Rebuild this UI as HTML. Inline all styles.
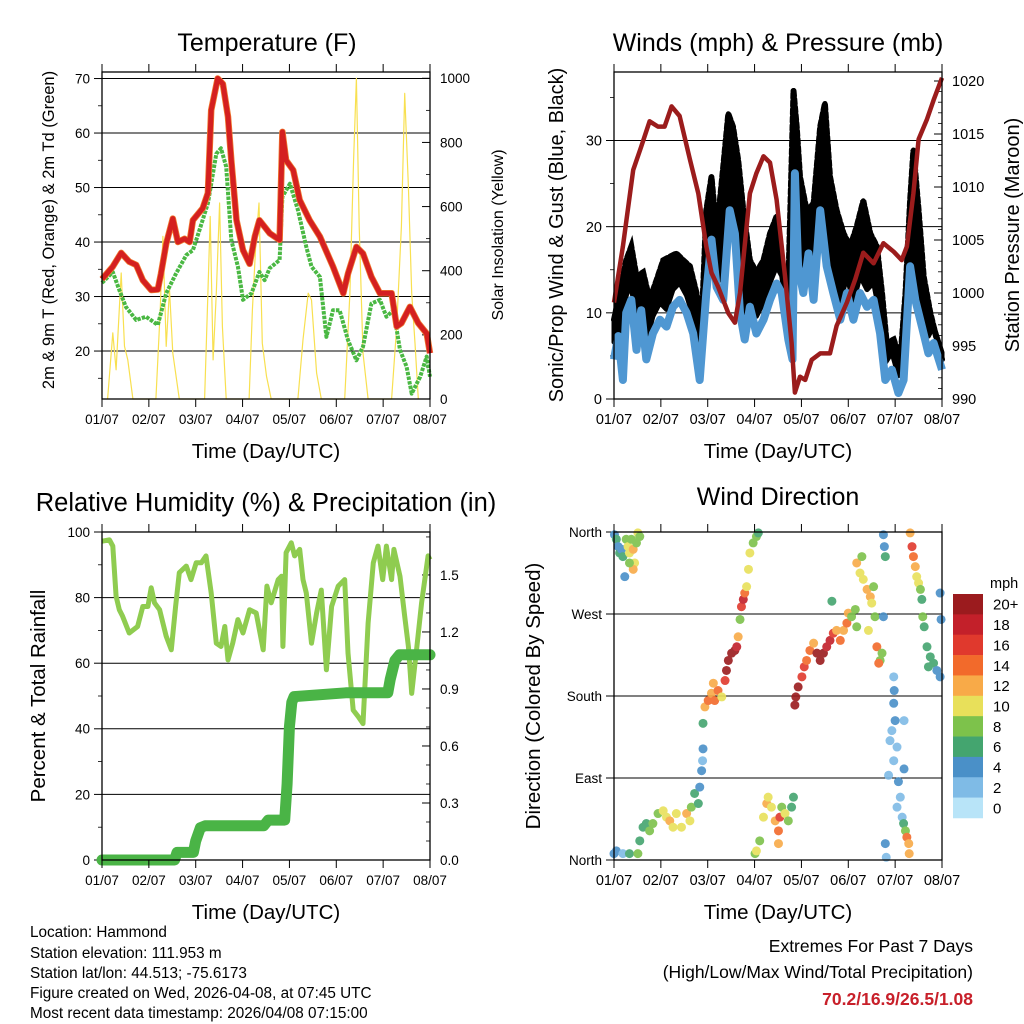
<!DOCTYPE html>
<html><head><meta charset="utf-8"><style>
html,body{margin:0;padding:0;background:#fff;}
svg{display:block;font-family:"Liberation Sans",Arial,sans-serif;}
</style></head><body>
<svg id="fig" width="1024" height="1024" viewBox="0 0 1024 1024" xmlns="http://www.w3.org/2000/svg">
<g id="layer"></g>
<g font-size="15.3" fill="#000">
<text x="30" y="937">Location: Hammond</text>
<text x="30" y="958">Station elevation: 111.953 m</text>
<text x="30" y="978">Station lat/lon: 44.513; -75.6173</text>
<text x="30" y="998">Figure created on Wed, 2026-04-08, at 07:45 UTC</text>
<text x="30" y="1018">Most recent data timestamp: 2026/04/08 07:15:00</text>
</g>
<g font-size="17.5" text-anchor="end">
<text x="973" y="952">Extremes For Past 7 Days</text>
<text x="973" y="978">(High/Low/Max Wind/Total Precipitation)</text>
<text x="973" y="1005" fill="#c8202a" font-weight="bold">70.2/16.9/26.5/1.08</text>
</g>
</svg>
<script>
// ---------- DATA ----------
const dayLabels = ["01/07","02/07","03/07","04/07","05/07","06/07","07/07","08/07"];
// Temperature (F)
const tempTime = [0,.23,.41,.58,.73,.87,1.05,1.19,1.26,1.37,1.51,1.62,1.76,1.87,1.94,2.15,2.26,2.33,2.47,2.58,2.69,2.76,2.87,3.01,3.15,3.26,3.36,3.47,3.58,3.79,3.85,3.93,4.08,4.22,4.43,4.65,4.93,5.15,5.25,5.43,5.57,5.75,5.93,6.04,6.18,6.29,6.39,6.57,6.75,6.93,7.0];
const tempVal = [33.2,35.5,38,36.4,35.8,33,31.2,31.3,34.2,39.7,44.3,40,40.6,40,44,46.2,49,64.2,70,69,63,55,44,38.5,36,41,44,42.8,41.6,40.4,60.2,55,53.2,47.7,44,41,35.5,30.6,34.2,39.1,37.9,33.6,30.6,30.6,30.6,24.5,25.1,28.1,25.1,23.2,19.6];
const dewTime = [0,.23,.37,.51,.73,.94,1.19,1.37,1.58,1.80,1.94,2.08,2.26,2.44,2.54,2.65,2.76,2.90,3.01,3.19,3.36,3.47,3.58,3.79,3.85,4.01,4.18,4.36,4.47,4.65,4.79,4.93,5.07,5.25,5.43,5.57,5.75,5.93,6.07,6.22,6.36,6.50,6.61,6.79,6.93,7.0];
const dewVal = [32.5,34.5,31.2,28.1,25.7,26.3,24.8,30.6,34.2,37.6,38.5,42.2,47.1,56.2,57.2,53.8,40.4,35.5,29.4,30.6,34.5,33,35.2,36.7,48.3,50.7,45.9,39.1,35.5,33.6,22.6,27.5,27.5,22,18.3,20.8,28.7,29.4,26.3,27.5,20.2,17.1,12.2,15.3,19,15.3];
const solarTime = [0.12,0.23,0.30,0.41,0.48,0.55,0.66, 1.15,1.24,1.30,1.37,1.44,1.51,1.65, 2.19,2.26,2.31,2.37,2.44,2.51,2.57,2.65, 3.14,3.21,3.28,3.35,3.42,3.51,3.61, 4.18,4.29,4.40,4.47,4.58,4.68, 5.18,5.29,5.37,5.43,5.49,5.57,5.68, 6.18,6.29,6.39,6.46,6.54,6.61,6.68,6.75];
const solarVal  = [0,206,91,393,164,122,0, 0,268,507,164,341,143,0, 0,330,569,122,330,611,226,0, 0,278,476,611,174,71,0, 0,185,330,309,81,0, 0,330,746,1000,538,143,0, 0,226,538,953,662,330,174,0];
// Winds (mph) & pressure (mb)
const windTime = [0,.09,.19,.26,.37,.48,.58,.69,.83,.98,1.12,1.26,1.40,1.55,1.69,1.83,1.97,2.08,2.19,2.33,2.47,2.58,2.69,2.79,2.90,3.04,3.19,3.33,3.47,3.58,3.72,3.81,3.86,3.93,4.04,4.15,4.26,4.40,4.54,4.68,4.83,4.97,5.11,5.25,5.40,5.54,5.68,5.79,5.93,6.07,6.18,6.32,6.43,6.57,6.71,6.82,7.0];
const windVal  = [4.6,7.3,2.2,10,11.5,5.7,10.3,4.6,7.6,9.2,8.4,10.7,11.5,10,7.6,2.2,12.3,18.5,13,11.5,21.9,19.2,10,6.9,10.7,7.6,9.2,11.5,13.4,12.3,6.9,4.6,26.2,15.4,12.3,16.9,11.5,21.9,15.4,12.3,9.2,12.3,9.2,12.3,10.7,11.5,7.6,2.2,3.4,0.7,2.2,15.4,11.5,8.4,5.3,6.5,3.4];
const gustTime = [0,.12,.26,.37,.48,.62,.76,.91,1.05,1.19,1.33,1.48,1.62,1.76,1.87,1.97,2.08,2.19,2.33,2.44,2.54,2.65,2.76,2.90,3.04,3.19,3.33,3.47,3.58,3.72,3.83,3.90,3.97,4.11,4.26,4.40,4.50,4.61,4.75,4.90,5.04,5.18,5.32,5.47,5.61,5.72,5.82,5.97,6.11,6.22,6.32,6.39,6.50,6.61,6.75,6.89,7.0];
const gustVal  = [9.2,12.3,16.1,17.7,14.2,14.7,11.5,13.8,16.1,16.5,16.9,16.1,15.4,12.3,8.4,21.9,25.8,19.2,26.9,33.1,31.6,27.7,21.9,16.1,14.7,16.1,19.2,21.2,16.1,13.1,35.8,31.6,25.8,21.9,22.7,31.6,34.3,25.8,21.9,19.2,17.7,20,23,19.2,17.7,12.3,6.5,6.9,4.6,12.3,23,28.9,21.9,14.2,10,6.9,4.6];
const presTime = [0,.19,.41,.58,.76,.94,1.08,1.23,1.40,1.62,1.80,1.97,2.08,2.22,2.44,2.58,2.69,2.90,3.04,3.19,3.33,3.47,3.65,3.79,3.86,3.97,4.08,4.22,4.40,4.61,4.75,4.97,5.15,5.32,5.54,5.75,5.97,6.14,6.25,6.39,6.50,6.68,6.82,7.0];
const presVal  = [999.1,1004.4,1011.6,1013.8,1016.2,1015.7,1015.7,1017.6,1016.7,1012.6,1009.4,1004.4,1001.9,1000.6,998.1,997.2,1000,1009.4,1011.3,1012.9,1012.3,1008.8,1001.6,995.3,990.6,992.1,991.8,993.7,994.3,994.3,996.9,999.1,1001.3,1003.8,1002.8,1004.7,1003.9,1003.1,1004.4,1009.4,1014.5,1016.4,1018.2,1020.3];
// Relative humidity (%) & precipitation (in)
const rhTime = [0,.16,.23,.30,.37,.44,.58,.76,.87,.98,1.05,1.12,1.23,1.37,1.48,1.57,1.65,1.80,1.90,2.01,2.12,2.22,2.33,2.44,2.54,2.62,2.69,2.79,2.90,3.01,3.15,3.29,3.44,3.52,3.61,3.76,3.83,3.86,3.93,4.04,4.11,4.22,4.29,4.36,4.47,4.58,4.68,4.79,4.90,5.04,5.18,5.25,5.36,5.47,5.57,5.68,5.79,5.89,5.99,6.07,6.18,6.23,6.36,6.46,6.54,6.61,6.72,6.82,6.89,6.96,7.0];
const rhVal  = [97.2,97.6,95.7,80.4,76.3,74.3,69.2,71.2,77.3,77.3,83,78.4,76.3,68.2,64.1,77.3,87.6,89.6,85.5,90.6,90.6,92.7,81.4,66.1,65.1,71.2,61,66.1,73.3,69.2,76.3,75.3,64.1,83.5,78.4,85.5,86.5,65.1,93.7,96.7,92.7,94.7,85.5,81.4,66.1,75.3,82.3,58,77.3,83.5,85.5,63.1,45.7,43.7,41.6,72.2,90.6,95.7,85.5,95.7,85.5,94.7,86.5,74.3,65.1,50.8,65.1,78.4,85.5,92.7,91.6];
const precipTime = [0,1.55,1.6,1.95,2.0,2.1,2.2,3.45,3.55,3.9,3.95,4.0,4.05,4.1,5.2,6.1,6.15,6.25,6.35,7.0];
const precipVal  = [0,0,0.04,0.04,0.1,0.17,0.18,0.18,0.21,0.21,0.4,0.7,0.83,0.86,0.88,0.88,0.95,1.05,1.08,1.08];
// Wind direction (deg) colored by speed (mph)
const dirTime = [.01,.05,.09,.12,.16,.19,.23,.26,.30,.33,.37,.41,.44,.48,.51,.55,.41,.33,
 0,.05,.19,.33,.51,.55,.62,.69,.76,.83,.94,1.05,1.12,1.19,1.26,1.33,1.44,1.55,1.62,1.65,1.72,1.80,1.83,1.87,1.89,1.90,1.90,
 1.94,2.01,2.08,2.15,2.22,2.30,2.12,2.37,2.40,2.44,2.51,2.58,2.62,2.65,2.69,2.72,2.76,2.79,2.83,2.87,2.90,2.97,3.04,3.08,
 3.01,3.04,3.11,3.19,3.26,3.29,3.36,3.44,3.51,3.54,3.58,3.65,3.72,3.79,3.83,3.51,
 3.86,3.88,3.93,4.01,4.06,4.11,4.18,4.26,4.33,4.40,4.47,4.54,4.61,4.68,4.75,4.83,4.90,4.97,5.00,5.07,5.15,5.18,4.65,
 5.18,5.25,5.32,5.40,5.47,5.50,5.54,5.29,5.43,5.57,5.61,5.68,5.72,5.65,
 5.75,5.77,5.79,5.75,5.97,5.98,5.97,6.00,5.93,5.89,6.04,5.97,6.19,5.86,6.07,6.11,6.04,6.15,6.18,6.22,6.25,6.29,6.30,5.79,5.81,6.19,
 6.32,6.36,6.39,6.43,6.46,6.50,6.54,6.57,6.59,6.62,6.68,6.75,6.82,6.89,6.96,6.98,6.96,6.71];
const dirDeg = [357,352,344,337,341,333,311,352,344,337,352,341,326,348,359,355,319,326,
 7,10,7,7,7,21,36,40,32,40,51,54,47,43,36,51,36,51,43,58,73,62,80,98,109,122,150,
 168,175,183,175,186,179,194,197,208,219,227,230,234,245,264,278,286,293,300,319,337,348,355,359,
 7,10,21,47,62,69,58,43,32,47,58,51,43,58,69,18,
 170,179,190,201,212,219,230,238,227,219,227,234,241,249,252,241,252,260,271,267,275,256,284,
 326,315,308,297,289,282,300,333,252,267,234,219,227,216,
 357,344,333,267,201,186,172,153,142,131,124,109,100,93,86,69,58,47,40,32,25,18,7,18,3,153,
 359,344,333,322,311,304,297,286,267,256,234,223,216,208,201,264,293,212];
const dirSpeed = [4,5,4,6,3,5,4,7,9,10,8,12,9,7,10,8,12,8,
 4,3,2,6,8,6,6,6,7,8,8,9,10,11,10,10,10,11,9,7,6,5,4,4,2,4,6,
 11,14,12,14,14,10,12,16,19,20,21,20,18,12,8,16,17,14,10,10,9,8,8,6,
 8,10,8,9,12,10,10,12,14,15,8,9,7,6,5,12,
 20,20,20,16,16,14,14,12,20,20,20,18,18,16,12,14,12,13,12,8,7,8,6,
 12,9,10,12,11,10,8,7,10,8,14,7,8,14,
 3,4,5,3,1,3,3,4,2,2,2,1,3,2,3,2,2,2,6,8,14,12,12,4,2,1,
 12,16,14,12,10,10,8,6,7,6,5,6,5,4,4,3,3,6];
const speedColors = ["#b8e4f8","#7fbbe6","#4a90c8","#44a56f","#7dc24b","#e8e05a","#f8aa48","#f26a2b","#e0392d","#c3202a","#9b1b1e"];
const speedLabels = ["0","2","4","6","8","10","12","14","16","18","20+"];

// ---------- HELPERS ----------
const NS = "http://www.w3.org/2000/svg";
const root = document.getElementById("layer");
function mk(tag, attrs, parent) {
  const e = document.createElementNS(NS, tag);
  for (const k in attrs) e.setAttribute(k, attrs[k]);
  (parent || root).appendChild(e);
  return e;
}
function scale(d0, d1, p0, p1) { return v => p0 + (v - d0) * (p1 - p0) / (d1 - d0); }
function txt(s, x, y, size, anchor, parent, extra) {
  const t = mk("text", Object.assign({x: x, y: y, "font-size": size, "text-anchor": anchor || "middle"}, extra || {}), parent);
  t.textContent = s;
  return t;
}
function pathFrom(xs, ys, sx, sy) {
  return xs.map((t, i) => (i ? "L" : "M") + sx(t).toFixed(1) + " " + sy(ys[i]).toFixed(1)).join(" ");
}
function panel(name) {
  const g = mk("g", {});
  
  
  return g;
}
function frame(g, x0, x1, y0, y1) {
  const r = mk("rect", {x: x0, y: y0, width: x1 - x0, height: y1 - y0, fill: "none", stroke: "#000", "stroke-width": 1.3}, g);
  
  
}
function xAxis(g, x0, x1, y0, y1, fs) {
  const sx = scale(0, 7, x0, x1);
  const ax = mk("g", {}, g);
  
  
  for (let i = 0; i <= 7; i++) {
    const x = sx(i);
    mk("line", {x1: x, x2: x, y1: y1, y2: y1 + 8, stroke: "#000", "stroke-width": 1}, ax);
    mk("line", {x1: x, x2: x, y1: y0, y2: y0 - 8, stroke: "#000", "stroke-width": 1}, ax);
    const t = txt(dayLabels[i], x, y1 + 25, fs, "middle", ax);
    
    
  }
  const tt = txt("Time (Day/UTC)", (x0 + x1) / 2, y1 + 59, 20.5, "middle", ax);
  
  
  return sx;
}
function yTicks(g, ticks, labels, sy, x, side, fs, minors, grid, x0, x1, inward) {
  const ax = mk("g", {}, g);
  
  
  const dir = side === "left" ? -1 : 1;
  const s = inward ? -dir : dir;
  (minors || []).forEach(v => {
    mk("line", {x1: x, x2: x + s * 4, y1: sy(v), y2: sy(v), stroke: "#000", "stroke-width": 0.8}, ax);
  });
  ticks.forEach((v, i) => {
    const y = sy(v);
    if (grid) mk("line", {x1: x0, x2: x1, y1: y, y2: y, stroke: "#000", "stroke-width": 1}, ax);
    mk("line", {x1: x, x2: x + s * 8, y1: y, y2: y, stroke: "#000", "stroke-width": 1}, ax);
    const lx = side === "left" ? x - 12 : x + 10;
    const t = txt(labels[i], lx, y + fs * 0.36, fs, side === "left" ? "end" : "start", ax);
    
    
  });
}
function yTitle(g, s, x, y, fs, name) {
  const t = txt(s, x, y, fs, "middle", g, {transform: "rotate(-90 " + x + " " + y + ")"});
  
  
}
function title(g, s, x, y, fs) {
  const t = txt(s, x, y, fs || 24.5, "middle", g);
  
  
}

// ---------- PANEL 1: TEMPERATURE ----------
(function(){
  const x0 = 102, x1 = 430, y0 = 72, y1 = 399;
  const g = panel('temperature-panel');
  const sy = scale(11.2, 71.2, y1, y0);
  const sSol = scale(0, 1019.6, y1, y0);
  const sx = scale(0, 7, x0, x1);
  yTicks(g, [20,30,40,50,60,70], ["20","30","40","50","60","70"], sy, x0, "left", 13.5, [15,25,35,45,55,65], true, x0, x1, false);
  yTicks(g, [0,200,400,600,800,1000], ["0","200","400","600","800","1000"], sSol, x1, "right", 13.5, [100,300,500,700,900], false, x0, x1, true);
  const sol = mk("path", {d: pathFrom(solarTime, solarVal, sx, sSol), fill: "none", stroke: "#f8e050", "stroke-width": 1.2, "stroke-linejoin": "round"}, g);
  
  
  const dew = mk("path", {d: pathFrom(dewTime, dewVal, sx, sy), fill: "none", stroke: "#4ab843", "stroke-width": 4, "stroke-dasharray": "3.5 1.2", "stroke-linejoin": "round"}, g);
  
  
  const t9 = mk("path", {d: pathFrom(tempTime, tempVal, sx, sy), fill: "none", stroke: "#f07a30", "stroke-width": 6.5, "stroke-linejoin": "round"}, g);
  
  
  const t2 = mk("path", {d: pathFrom(tempTime, tempVal, sx, sy), fill: "none", stroke: "#d42020", "stroke-width": 5, "stroke-linejoin": "round"}, g);
  
  
  frame(g, x0, x1, y0, y1);
  xAxis(g, x0, x1, y0, y1, 13.5);
  title(g, "Temperature (F)", 267, 51, 25);
  yTitle(g, "2m & 9m T (Red, Orange) & 2m Td (Green)", 54, 230, 16.5, 'y-axis-title-left');
  yTitle(g, "Solar Insolation (Yellow)", 503, 235, 16, 'y-axis-title-right');
})();

// ---------- PANEL 2: WINDS & PRESSURE ----------
(function(){
  const x0 = 614, x1 = 942, y0 = 72, y1 = 399;
  const g = panel('winds-pressure-panel');
  const sy = scale(0, 37.95, y1, y0);
  const sp = scale(990, 1020.85, y1, y0);
  const sx = scale(0, 7, x0, x1);
  yTicks(g, [0,10,20,30], ["0","10","20","30"], sy, x0, "left", 14.5, [5,15,25,35], true, x0, x1, false);
  yTicks(g, [990,995,1000,1005,1010,1015,1020], ["990","995","1000","1005","1010","1015","1020"], sp, x1, "right", 14.5, [991,992,993,994,996,997,998,999,1001,1002,1003,1004,1006,1007,1008,1009,1011,1012,1013,1014,1016,1017,1018,1019], false, x0, x1, true);
  let d = pathFrom(gustTime, gustVal, sx, sy);
  for (let i = windTime.length - 1; i >= 0; i--) d += " L" + sx(windTime[i]).toFixed(1) + " " + sy(windVal[i] + 2).toFixed(1);
  const band = mk("path", {d: d + " Z", fill: "#000", stroke: "#000", "stroke-width": 5, "stroke-linejoin": "round"}, g);
  
  
  const gd = mk("path", {d: pathFrom(gustTime, gustVal, sx, sy), fill: "none", stroke: "#000", "stroke-width": 6, "stroke-dasharray": "5 3", "stroke-linecap": "round"}, g);
  
  
  const w = mk("path", {d: pathFrom(windTime, windVal, sx, sy), fill: "none", stroke: "#4f97d2", "stroke-width": 8, "stroke-linejoin": "round"}, g);
  
  
  const p = mk("path", {d: pathFrom(presTime, presVal, sx, sp), fill: "none", stroke: "#9b1c1c", "stroke-width": 4.5, "stroke-linejoin": "round"}, g);
  
  
  frame(g, x0, x1, y0, y1);
  xAxis(g, x0, x1, y0, y1, 14.5);
  title(g, "Winds (mph) & Pressure (mb)", 778, 51, 25);
  yTitle(g, "Sonic/Prop Wind & Gust (Blue, Black)", 563, 235, 20, 'y-axis-title-left');
  yTitle(g, "Station Pressure (Maroon)", 1019, 235, 20, 'y-axis-title-right');
})();

// ---------- PANEL 3: RH & PRECIP ----------
(function(){
  const x0 = 102, x1 = 430, y0 = 532, y1 = 860;
  const g = panel('humidity-precip-panel');
  const sy = scale(0, 100, y1, y0);
  const sr = scale(0, 1.726, y1, y0);
  const sx = scale(0, 7, x0, x1);
  yTicks(g, [0,20,40,60,80,100], ["0","20","40","60","80","100"], sy, x0, "left", 13.5, [10,30,50,70,90], true, x0, x1, false);
  yTicks(g, [0,0.3,0.6,0.9,1.2,1.5], ["0.0","0.3","0.6","0.9","1.2","1.5"], sr, x1, "right", 13.5, [0.1,0.2,0.4,0.5,0.7,0.8,1.0,1.1,1.3,1.4,1.6,1.7], false, x0, x1, true);
  const rh = mk("path", {d: pathFrom(rhTime, rhVal, sx, sy), fill: "none", stroke: "#8fcc50", "stroke-width": 5, "stroke-linejoin": "round"}, g);
  
  
  const pr = mk("path", {d: pathFrom(precipTime, precipVal, sx, sr), fill: "none", stroke: "#4ab446", "stroke-width": 11, "stroke-linejoin": "round", "stroke-linecap": "round"}, g);
  
  
  frame(g, x0, x1, y0, y1);
  xAxis(g, x0, x1, y0, y1, 13.5);
  title(g, "Relative Humidity (%) & Precipitation (in)", 266, 511, 25.5);
  yTitle(g, "Percent & Total Rainfall", 45, 696, 20.5, 'y-axis-title-left');
})();

// ---------- PANEL 4: WIND DIRECTION ----------
(function(){
  const x0 = 614, x1 = 942, y0 = 532, y1 = 860;
  const g = panel('wind-direction-panel');
  const sy = scale(0, 360, y1, y0);
  const sx = scale(0, 7, x0, x1);
  yTicks(g, [0,90,180,270,360], ["North","East","South","West","North"], sy, x0, "left", 13.5, [], true, x0, x1, false);
  const pts = mk("g", {opacity: 0.9}, g);
  
  
  dirTime.forEach((t, i) => {
    const ci = Math.max(0, Math.min(10, Math.round(dirSpeed[i] / 2)));
    const c = mk("circle", {cx: sx(t), cy: sy(dirDeg[i]), r: 4.5, fill: speedColors[ci]}, pts);
    
    
  });
  frame(g, x0, x1, y0, y1);
  xAxis(g, x0, x1, y0, y1, 14.5);
  title(g, "Wind Direction", 778, 505, 25);
  yTitle(g, "Direction (Colored By Speed)", 540, 696, 20.5, 'y-axis-title-left');
  const lg = mk("g", {}, g);
  
  
  const top = 594, h = 20.36;
  const u = txt("mph", 990, 588, 14.5, "start", lg);
  
  
  for (let k = 0; k < 11; k++) {
    const idx = 10 - k;
    const r = mk("rect", {x: 953, y: top + k * h, width: 30, height: h + 0.3, fill: speedColors[idx]}, lg);
    
    
    const t = txt(speedLabels[idx], 993, top + k * h + h / 2 + 5.5, 15, "start", lg);
    
    
  }
})();
</script>
</body></html>
